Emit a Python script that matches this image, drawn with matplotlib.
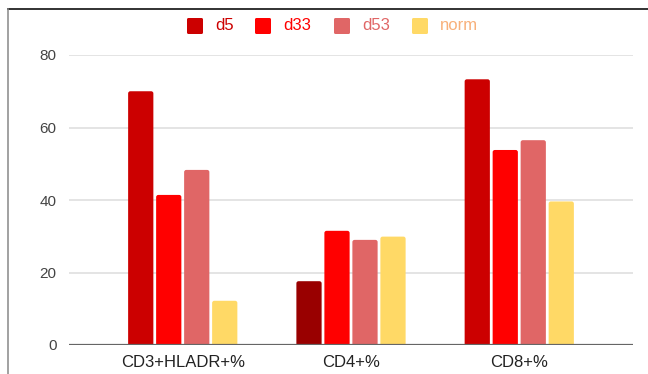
import matplotlib
matplotlib.use("Agg")
import matplotlib.pyplot as plt
from matplotlib.lines import Line2D
from matplotlib.patches import FancyBboxPatch
import numpy as np

plt.rcParams['font.family'] = ['Liberation Sans', 'DejaVu Sans']

# Data
categories = ["CD3+HLADR+%", "CD4+%", "CD8+%"]
series_names = ["d5", "d33", "d53", "norm"]
d5 = [70.0, 17.6, 73.3]
d33 = [41.4, 31.5, 53.8]
d53 = [48.3, 29.0, 56.5]
norm = [12.2, 29.9, 39.6]
y_ticks = [0, 20, 40, 60, 80]

series_values = [d5, d33, d53, norm]
series_colors = ["#cc0000", "#ff0000", "#e06666", "#ffd966"]
legend_text_colors = ["#cc0000", "#ff0000", "#e06666", "#f8b07a"]
# the CD4 bar of d5 is highlighted in a darker red
d5_point_colors = ["#cc0000", "#990000", "#cc0000"]

W, H = 648, 374
fig = plt.figure(figsize=(W / 100, H / 100), dpi=100)
fig.patch.set_facecolor("white")

ax_left, ax_right, ax_top, ax_bottom = 69, 633, 55, 345
ax = fig.add_axes([ax_left / W, (H - ax_bottom) / H,
                   (ax_right - ax_left) / W, (ax_bottom - ax_top) / H])

x = np.arange(len(categories))
bar_w = 0.150
pitch = 0.1664
ax.set_xlim(-0.676, 2.676)
ax.set_ylim(0, 80)

# pixel -> data scale, used to keep the corner rounding circular
px_x = (2.676 + 0.676) / (ax_right - ax_left)
px_y = 80 / (ax_bottom - ax_top)
radius_px = 2.2

for i, (vals, col) in enumerate(zip(series_values, series_colors)):
    colors = d5_point_colors if i == 0 else [col] * len(vals)
    bars = ax.bar(x + (i - 1.5) * pitch, vals, width=bar_w, color=colors,
                  zorder=3, linewidth=0)
    for b in bars:
        b.set_visible(False)
        x0, w, h = b.get_x(), b.get_width(), b.get_height()
        # extend below the baseline so only the top corners show rounded
        ext = radius_px * px_y
        patch = FancyBboxPatch((x0, -ext), w, h + ext,
                               boxstyle=f"round,pad=0,rounding_size={radius_px * px_x}",
                               mutation_aspect=px_y / px_x,
                               facecolor=b.get_facecolor(), edgecolor="none",
                               zorder=3)
        ax.add_patch(patch)

ax.set_yticks(y_ticks)
ax.set_yticklabels([str(t) for t in y_ticks])
ax.set_xticks(x)
ax.set_xticklabels(categories)
ax.tick_params(axis='both', length=0, colors="#444444", labelsize=11)
ax.tick_params(axis='y', pad=9)
ax.tick_params(axis='x', pad=7, labelsize=12, labelcolor="#222222")
for t in y_ticks[1:]:
    ax.axhline(t, color="#dddddd", linewidth=1.1, zorder=1)
ax.axhline(0, color="#666666", linewidth=1.6, zorder=4)
for s in ax.spines.values():
    s.set_visible(False)

# Legend row
legend_y = H - 26
sq_x = [187, 255, 334, 412]
for name, col, tcol, sx in zip(series_names, series_colors, legend_text_colors, sq_x):
    fig.patches.append(FancyBboxPatch((sx / W, (legend_y - 8) / H), 16 / W, 16 / H,
                                      boxstyle=f"round,pad=0,rounding_size={1.5 / W}",
                                      mutation_aspect=W / H,
                                      transform=fig.transFigure, facecolor=col,
                                      edgecolor="none"))
    fig.text((sx + 28) / W, legend_y / H, name, color=tcol, fontsize=12,
             ha="left", va="center")

# Frame lines along the top and left edges
fig.add_artist(Line2D([8 / W, 1.0], [(H - 9) / H, (H - 9) / H],
                      transform=fig.transFigure, color="#222222", linewidth=1.3))
fig.add_artist(Line2D([8 / W, 8 / W], [0, (H - 9) / H],
                      transform=fig.transFigure, color="#888888", linewidth=1.1))

fig.savefig("out.png", dpi=100, facecolor="white")
